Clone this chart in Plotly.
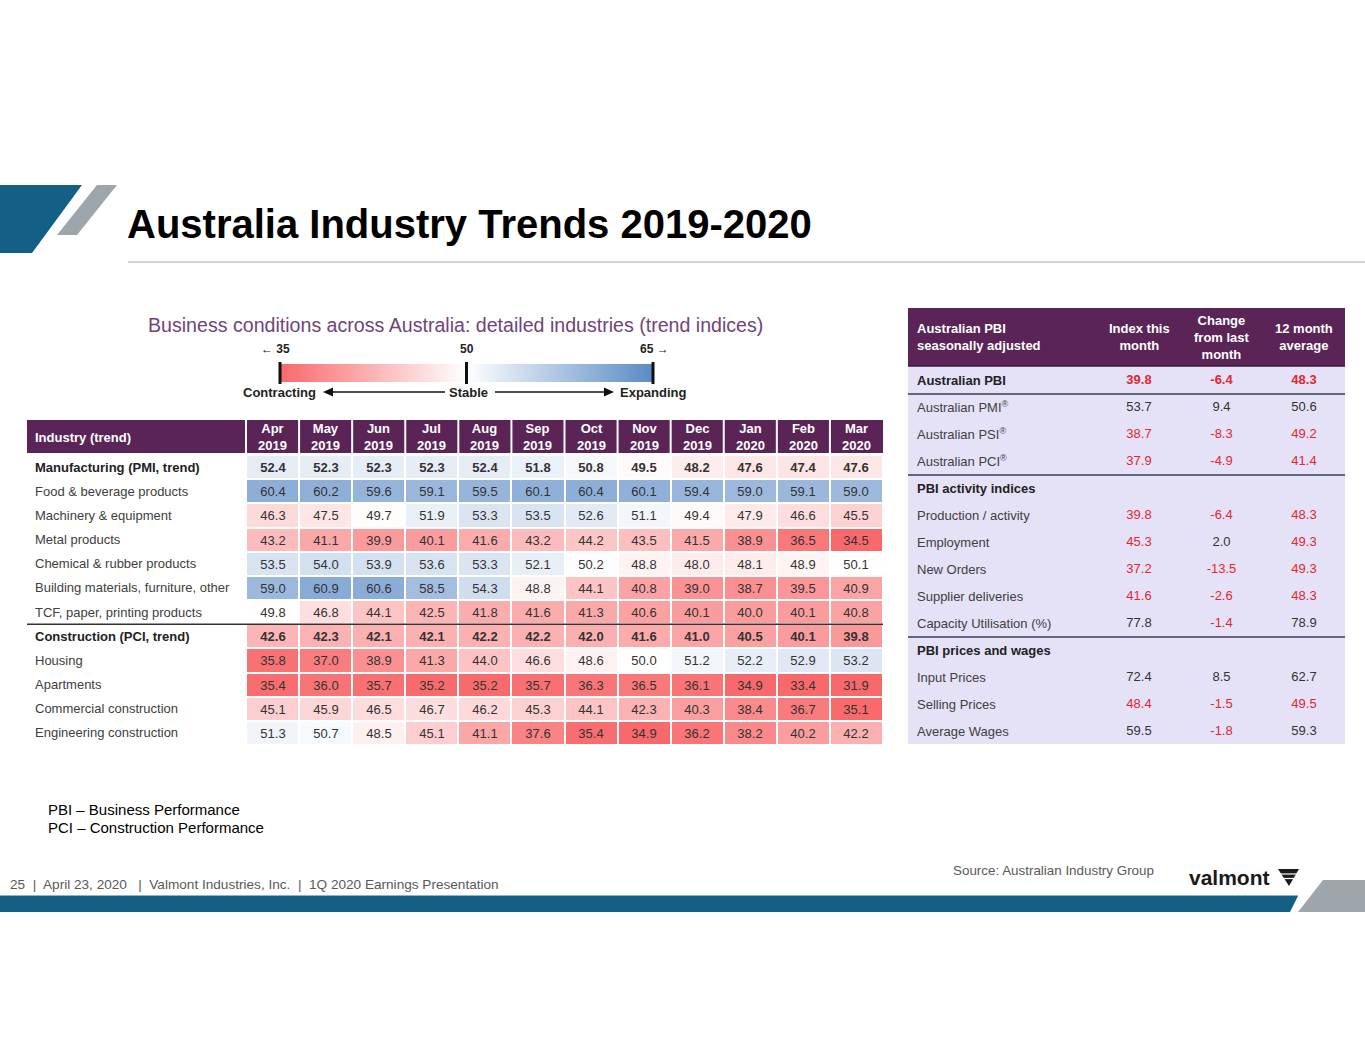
import plotly.graph_objects as go

W, H = 1365, 1055

# ---------------- data ----------------
months = ["Apr 2019", "May 2019", "Jun 2019", "Jul 2019", "Aug 2019", "Sep 2019",
          "Oct 2019", "Nov 2019", "Dec 2019", "Jan 2020", "Feb 2020", "Mar 2020"]
industries = ["Manufacturing (PMI, trend)", "Food & beverage products", "Machinery & equipment",
              "Metal products", "Chemical & rubber products", "Building materials, furniture, other",
              "TCF, paper, printing products", "Construction (PCI, trend)", "Housing", "Apartments",
              "Commercial construction", "Engineering construction"]
bold_industries = ["Manufacturing (PMI, trend)", "Construction (PCI, trend)"]
manufacturing = [52.4, 52.3, 52.3, 52.3, 52.4, 51.8, 50.8, 49.5, 48.2, 47.6, 47.4, 47.6]
food_beverage = [60.4, 60.2, 59.6, 59.1, 59.5, 60.1, 60.4, 60.1, 59.4, 59.0, 59.1, 59.0]
machinery = [46.3, 47.5, 49.7, 51.9, 53.3, 53.5, 52.6, 51.1, 49.4, 47.9, 46.6, 45.5]
metal = [43.2, 41.1, 39.9, 40.1, 41.6, 43.2, 44.2, 43.5, 41.5, 38.9, 36.5, 34.5]
chemical = [53.5, 54.0, 53.9, 53.6, 53.3, 52.1, 50.2, 48.8, 48.0, 48.1, 48.9, 50.1]
building = [59.0, 60.9, 60.6, 58.5, 54.3, 48.8, 44.1, 40.8, 39.0, 38.7, 39.5, 40.9]
tcf = [49.8, 46.8, 44.1, 42.5, 41.8, 41.6, 41.3, 40.6, 40.1, 40.0, 40.1, 40.8]
construction = [42.6, 42.3, 42.1, 42.1, 42.2, 42.2, 42.0, 41.6, 41.0, 40.5, 40.1, 39.8]
housing = [35.8, 37.0, 38.9, 41.3, 44.0, 46.6, 48.6, 50.0, 51.2, 52.2, 52.9, 53.2]
apartments = [35.4, 36.0, 35.7, 35.2, 35.2, 35.7, 36.3, 36.5, 36.1, 34.9, 33.4, 31.9]
commercial = [45.1, 45.9, 46.5, 46.7, 46.2, 45.3, 44.1, 42.3, 40.3, 38.4, 36.7, 35.1]
engineering = [51.3, 50.7, 48.5, 45.1, 41.1, 37.6, 35.4, 34.9, 36.2, 38.2, 40.2, 42.2]
scale_ticks = [35, 50, 65]

pbi_labels = ["Australian PBI", "Australian PMI", "Australian PSI", "Australian PCI",
              "PBI activity indices", "Production / activity", "Employment", "New Orders",
              "Supplier deliveries", "Capacity Utilisation (%)", "PBI prices and wages",
              "Input Prices", "Selling Prices", "Average Wages"]
pbi_registered = ["Australian PMI", "Australian PSI", "Australian PCI"]
pbi_sections = ["Australian PBI", "PBI activity indices", "PBI prices and wages"]
pbi_columns = ["Index this month", "Change from last month", "12 month average"]
pbi_headers = ["Index this<br>month", "Change<br>from last<br>month", "12 month<br>average"]
index_this_month = [39.8, 53.7, 38.7, 37.9, None, 39.8, 45.3, 37.2, 41.6, 77.8, None, 72.4, 48.4, 59.5]
change_last_month = [-6.4, 9.4, -8.3, -4.9, None, -6.4, 2.0, -13.5, -2.6, -1.4, None, 8.5, -1.5, -1.8]
twelve_month_avg = [48.3, 50.6, 49.2, 41.4, None, 48.3, 49.3, 49.3, 48.3, 78.9, None, 62.7, 49.5, 59.3]

# ---------------- styles ----------------
FONT = "Liberation Sans, Arial, sans-serif"
PURPLE = "#5a2457"
LAVENDER = "#e5e1f7"
RED = "#e3262f"
DARK = "#333333"
LABEL = "#404040"
BLUE_BRAND = "#145f86"
GREY_BRAND = "#9ea5ab"
SCALE = [[0, "#f8696b"], [0.5, "#ffffff"], [1, "#5a8ac6"]]

# legend strip geometry (pixels on the page)
STRIP_X0, STRIP_X1, STRIP_Y0, STRIP_Y1 = 280, 653, 364, 382


def fx(px):
    return px / W


def fy(py):
    return 1 - py / H


def strip_x(v):
    return STRIP_X0 + (v - scale_ticks[0]) / (scale_ticks[-1] - scale_ticks[0]) * (STRIP_X1 - STRIP_X0)


z = [manufacturing, food_beverage, machinery, metal, chemical, building, tcf,
     construction, housing, apartments, commercial, engineering]
cell_text = []
for name, row in zip(industries, z):
    fmt = "<b>{:.1f}</b>" if name in bold_industries else "{:.1f}"
    cell_text.append([fmt.format(v) for v in row])

fig = go.Figure()

fig.add_trace(go.Heatmap(
    z=z, x=months, y=industries, text=cell_text, texttemplate="%{text}",
    textfont=dict(family=FONT, size=13, color=DARK),
    colorscale=SCALE, zmin=scale_ticks[0], zmax=scale_ticks[-1], xgap=2, ygap=2,
    xaxis="x2", yaxis="y2", hoverinfo="skip", showscale=False,
))

# legend strip: gradient over the 35..65 scale
lo, hi = strip_x(scale_ticks[0]), strip_x(scale_ticks[-1])
fig.add_trace(go.Scatter(
    x=[lo, hi, hi, lo, lo], y=[STRIP_Y0, STRIP_Y0, STRIP_Y1, STRIP_Y1, STRIP_Y0],
    mode="lines", line=dict(width=0), fill="toself",
    fillgradient=dict(type="horizontal", colorscale=SCALE),
    xaxis="x", yaxis="y", hoverinfo="skip", showlegend=False,
))

# right-hand table values
for col, vals in zip(pbi_columns, [index_this_month, change_last_month, twelve_month_avg]):
    xs, ys, ts, cs = [], [], [], []
    for lab, v in zip(pbi_labels, vals):
        if v is None:
            continue
        neg = (v < 0) if col == "Change from last month" else (v < 50)
        t = "{:.1f}".format(v)
        if lab == "Australian PBI":
            t = "<b>" + t + "</b>"
        xs.append(col)
        ys.append(lab)
        ts.append(t)
        cs.append(RED if neg else DARK)
    fig.add_trace(go.Scatter(x=xs, y=ys, text=ts, mode="text", textposition="middle center",
                             textfont=dict(family=FONT, size=13, color=cs),
                             xaxis="x3", yaxis="y3", hoverinfo="skip", showlegend=False))

shapes = []
ann = []

# ---- slide decoration ----
shapes.append(dict(type="path", xref="x", yref="y", path="M 0 185 L 82 185 L 32 253 L 0 253 Z",
                   fillcolor=BLUE_BRAND, line=dict(width=0)))
shapes.append(dict(type="path", xref="x", yref="y", path="M 97 185 L 117 185 L 77 235 L 57 235 Z",
                   fillcolor=GREY_BRAND, line=dict(width=0)))
shapes.append(dict(type="line", xref="x", yref="y", x0=128, x1=1365, y0=262, y1=262,
                   line=dict(color="#a6a6a6", width=1.2)))
ann.append(dict(xref="x", yref="y", x=125, y=224, xanchor="left", yanchor="middle",
                text="<b>Australia Industry Trends 2019-2020</b>", showarrow=False,
                font=dict(family=FONT, size=40, color="#000000")))

# bottom bar
shapes.append(dict(type="path", xref="x", yref="y", path="M 0 896 L 1298 896 L 1290 912 L 0 912 Z",
                   fillcolor=BLUE_BRAND, line=dict(width=0)))
shapes.append(dict(type="line", xref="x", yref="y", x0=0, x1=1298, y0=895.5, y1=895.5,
                   line=dict(color="#8fb4c9", width=1)))
shapes.append(dict(type="path", xref="x", yref="y", path="M 1323 880 L 1365 880 L 1365 912 L 1298 912 Z",
                   fillcolor=GREY_BRAND, line=dict(width=0)))

# footnotes
ann.append(dict(xref="x", yref="y", x=46, y=809, xanchor="left", yanchor="middle", showarrow=False,
                text="PBI \u2013 Business Performance", font=dict(family=FONT, size=15, color="#000")))
ann.append(dict(xref="x", yref="y", x=46, y=827, xanchor="left", yanchor="middle", showarrow=False,
                text="PCI \u2013 Construction Performance", font=dict(family=FONT, size=15, color="#000")))
ann.append(dict(xref="x", yref="y", x=8, y=884, xanchor="left", yanchor="middle", showarrow=False,
                text="25 \u00a0|\u00a0 April 23, 2020 \u00a0 |\u00a0 Valmont Industries, Inc. \u00a0|\u00a0 1Q 2020 Earnings Presentation",
                font=dict(family=FONT, size=13.6, color="#595959")))
ann.append(dict(xref="x", yref="y", x=951, y=870, xanchor="left", yanchor="middle", showarrow=False,
                text="Source: Australian Industry Group", font=dict(family=FONT, size=13.4, color="#595959")))
ann.append(dict(xref="x", yref="y", x=1187, y=877, xanchor="left", yanchor="middle", showarrow=False,
                text="<b>valmont</b>", font=dict(family=FONT, size=21, color="#1a1a1a")))
shapes.append(dict(type="path", xref="x", yref="y", path="M 1278 869 L 1299 869 L 1289 886 Z",
                   fillcolor="#1a1a1a", line=dict(width=0)))
shapes.append(dict(type="line", xref="x", yref="y", x0=1279, x1=1298, y0=874, y1=874,
                   line=dict(color="white", width=1.2)))
shapes.append(dict(type="line", xref="x", yref="y", x0=1282, x1=1296, y0=878.5, y1=878.5,
                   line=dict(color="white", width=1.2)))

# ---- left heatmap: subtitle & legend ----
ann.append(dict(xref="x", yref="y", x=455, y=325, xanchor="center", yanchor="middle", showarrow=False,
                text="Business conditions across Australia: detailed industries (trend indices)",
                font=dict(family=FONT, size=19.6, color="#714477")))
for v in scale_ticks:
    shapes.append(dict(type="line", xref="x", yref="y", x0=strip_x(v), x1=strip_x(v),
                       y0=STRIP_Y0 - 2, y1=STRIP_Y1 + 2, line=dict(color="#111", width=3)))
ann.append(dict(xref="x", yref="y", x=strip_x(scale_ticks[0]) + 12, y=349, xanchor="right", yanchor="middle",
                showarrow=False, text="<b>\u2190 %d</b>" % scale_ticks[0],
                font=dict(family=FONT, size=12, color="#222")))
ann.append(dict(xref="x", yref="y", x=strip_x(scale_ticks[1]), y=349, xanchor="center", yanchor="middle",
                showarrow=False, text="<b>%d</b>" % scale_ticks[1],
                font=dict(family=FONT, size=12, color="#222")))
ann.append(dict(xref="x", yref="y", x=strip_x(scale_ticks[2]) - 15, y=349, xanchor="left", yanchor="middle",
                showarrow=False, text="<b>%d \u2192</b>" % scale_ticks[2],
                font=dict(family=FONT, size=12, color="#222")))
ann.append(dict(xref="x", yref="y", x=241, y=392, xanchor="left", yanchor="middle", showarrow=False,
                text="<b>Contracting</b>", font=dict(family=FONT, size=13, color="#222")))
ann.append(dict(xref="x", yref="y", x=468, y=392, xanchor="center", yanchor="middle", showarrow=False,
                text="<b>Stable</b>", font=dict(family=FONT, size=13, color="#222")))
ann.append(dict(xref="x", yref="y", x=618, y=392, xanchor="left", yanchor="middle", showarrow=False,
                text="<b>Expanding</b>", font=dict(family=FONT, size=13, color="#222")))
shapes.append(dict(type="line", xref="x", yref="y", x0=330, x1=445, y0=392, y1=392,
                   line=dict(color="#111", width=1.5)))
shapes.append(dict(type="path", xref="x", yref="y", path="M 323 392 L 333 387.5 L 333 396.5 Z",
                   fillcolor="#111", line=dict(width=0)))
shapes.append(dict(type="line", xref="x", yref="y", x0=495, x1=608, y0=392, y1=392,
                   line=dict(color="#111", width=1.5)))
shapes.append(dict(type="path", xref="x", yref="y", path="M 614 392 L 604 387.5 L 604 396.5 Z",
                   fillcolor="#111", line=dict(width=0)))

# ---- left heatmap: header & labels ----
shapes.append(dict(type="rect", xref="x", yref="y", x0=27, x1=883, y0=420, y1=453,
                   fillcolor=PURPLE, line=dict(width=0), layer="below"))
for i in range(len(months)):
    shapes.append(dict(type="line", xref="x2", yref="y", x0=i - 0.5, x1=i - 0.5, y0=420, y1=453,
                       line=dict(color="white", width=2)))
ann.append(dict(xref="x", yref="y", x=33, y=437, xanchor="left", yanchor="middle", showarrow=False,
                text="<b>Industry (trend)</b>", font=dict(family=FONT, size=13, color="white")))
for m in months:
    mon, yr = m.split(" ")
    ann.append(dict(xref="x2", yref="y", x=m, y=437, xanchor="center", yanchor="middle", showarrow=False,
                    text="<b>%s<br>%s</b>" % (mon, yr),
                    font=dict(family=FONT, size=13, color="white")))
for name in industries:
    b = name in bold_industries
    ann.append(dict(xref="x", yref="y2", x=33, y=name, xanchor="left", yanchor="middle", showarrow=False,
                    text=("<b>%s</b>" % name) if b else name,
                    font=dict(family=FONT, size=13, color="#222" if b else LABEL)))
shapes.append(dict(type="line", xref="x", yref="y2", x0=27, x1=883, y0=6.5, y1=6.5,
                   line=dict(color="#333", width=1.5)))

# ---- right table ----
shapes.append(dict(type="rect", xref="x", yref="y", x0=908, x1=1345, y0=308, y1=366,
                   fillcolor=PURPLE, line=dict(width=0), layer="below"))
shapes.append(dict(type="rect", xref="x", yref="y", x0=908, x1=1345, y0=366, y1=744,
                   fillcolor=LAVENDER, line=dict(width=0), layer="below"))
shapes.append(dict(type="line", xref="x", yref="y", x0=908, x1=1345, y0=366, y1=366,
                   line=dict(color="#3c1a3c", width=1.5)))
for pos in [0.5, 3.5, 9.5]:
    shapes.append(dict(type="line", xref="x", yref="y3", x0=908, x1=1345, y0=pos, y1=pos,
                       line=dict(color="#64657a", width=2)))
ann.append(dict(xref="x", yref="y", x=915, y=337, xanchor="left", yanchor="middle", showarrow=False,
                text="<b>Australian PBI<br>seasonally adjusted</b>", align="left",
                font=dict(family=FONT, size=13, color="white")))
for col, htxt in zip(pbi_columns, pbi_headers):
    ann.append(dict(xref="x3", yref="y", x=col, y=337, xanchor="center", yanchor="middle", showarrow=False,
                    text="<b>%s</b>" % htxt, align="center",
                    font=dict(family=FONT, size=13, color="white")))
for lab in pbi_labels:
    t = lab + "<sup>\u00ae</sup>" if lab in pbi_registered else lab
    b = lab in pbi_sections
    ann.append(dict(xref="x", yref="y3", x=915, y=lab, xanchor="left", yanchor="middle", showarrow=False,
                    text=("<b>%s</b>" % t) if b else t,
                    font=dict(family=FONT, size=13, color="#222" if b else LABEL)))

hidden = dict(showgrid=False, zeroline=False, showticklabels=False, ticks="", showline=False, fixedrange=True)
fig.update_layout(
    width=W, height=H, margin=dict(l=0, r=0, t=0, b=0, autoexpand=False),
    paper_bgcolor="white", plot_bgcolor="rgba(0,0,0,0)", showlegend=False,
    xaxis=dict(range=[0, W], domain=[0, 1], **hidden),
    yaxis=dict(range=[H, 0], domain=[0, 1], **hidden),
    xaxis2=dict(domain=[fx(245), fx(883)], anchor="y2", type="category",
                categoryorder="array", categoryarray=months, **hidden),
    yaxis2=dict(domain=[fy(745), fy(455)], anchor="x2", type="category",
                categoryorder="array", categoryarray=industries, autorange="reversed", **hidden),
    xaxis3=dict(domain=[fx(1097.75), fx(1345.25)], anchor="y3", type="category",
                categoryorder="array", categoryarray=pbi_columns, range=[-0.5, 2.5], **hidden),
    yaxis3=dict(domain=[fy(745), fy(367)], anchor="x3", type="category",
                categoryorder="array", categoryarray=pbi_labels, range=[13.5, -0.5], **hidden),
    shapes=shapes, annotations=ann,
)

fig.write_html("out.html", config={"displayModeBar": False},
               post_script="document.body.style.margin='0';document.body.style.overflow='hidden';")
